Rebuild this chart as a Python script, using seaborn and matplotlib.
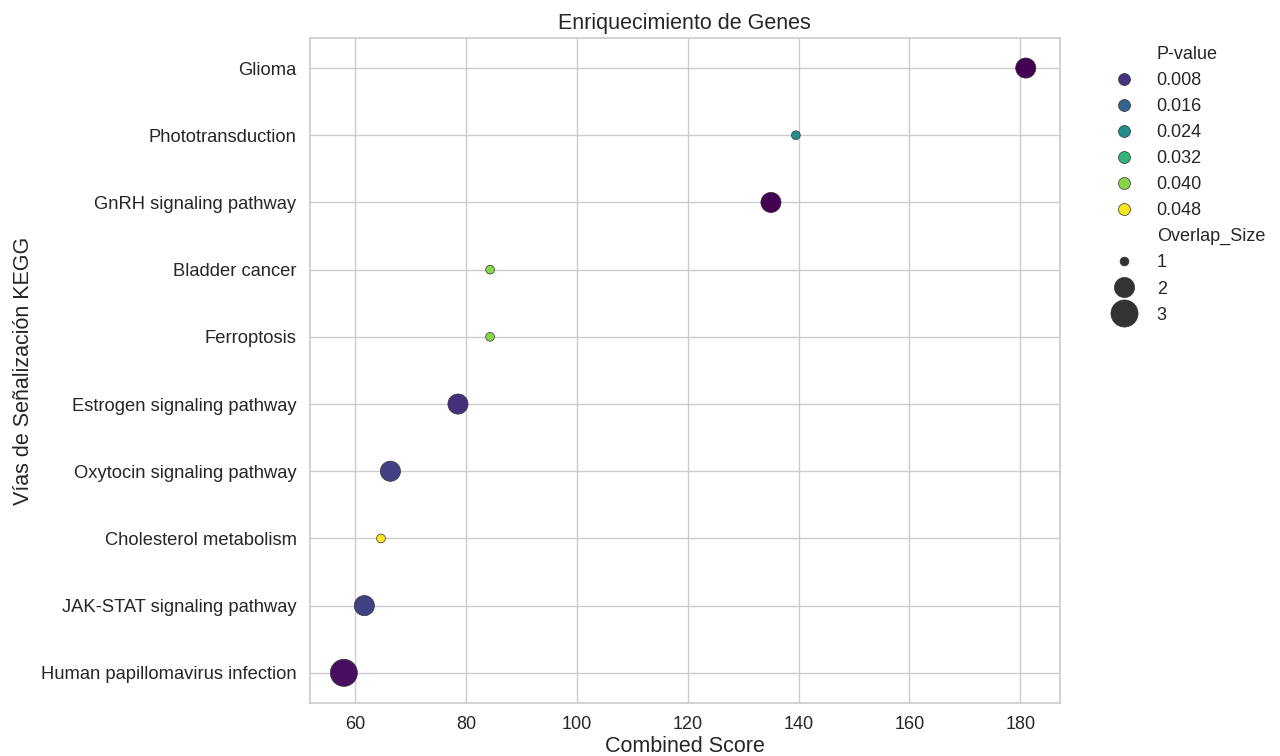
import matplotlib
matplotlib.use("Agg")
import matplotlib.pyplot as plt
import seaborn as sns
import pandas as pd

# KEGG pathway enrichment results
pathways = [
    "Glioma",
    "Phototransduction",
    "GnRH signaling pathway",
    "Bladder cancer",
    "Ferroptosis",
    "Estrogen signaling pathway",
    "Oxytocin signaling pathway",
    "Cholesterol metabolism",
    "JAK-STAT signaling pathway",
    "Human papillomavirus infection",
]
combined_score = [181.0, 139.5, 135.0, 84.3, 84.3, 78.5, 66.3, 64.6, 61.6, 57.9]
p_values = [0.0008, 0.0247, 0.0009, 0.0400, 0.0400, 0.0075, 0.0100, 0.0485, 0.0100, 0.0025]
overlap_size = [2, 1, 2, 1, 1, 2, 2, 1, 2, 3]

df = pd.DataFrame({
    "Term": pathways,
    "Combined Score": combined_score,
    "P-value": p_values,
    "Overlap_Size": overlap_size,
})

sns.set_theme(style="whitegrid")
plt.rcParams["font.family"] = ["Liberation Sans", "DejaVu Sans"]

fig, ax = plt.subplots(figsize=(12.8, 7.56), dpi=100)
fig.subplots_adjust(left=0.242, right=0.828, top=0.950, bottom=0.070)

sns.scatterplot(
    data=df, x="Combined Score", y="Term",
    hue="P-value", size="Overlap_Size",
    palette="viridis", sizes=(40, 380),
    edgecolor="0.2", linewidth=0.5, ax=ax,
)

if not ax.yaxis_inverted():
    ax.invert_yaxis()

for side in ax.spines.values():
    side.set_visible(True)
    side.set_color("0.8")

ax.set_title("Enriquecimiento de Genes", fontsize=15.5)
ax.set_xlabel("Combined Score", fontsize=15.5, labelpad=2)
ax.set_ylabel("Vías de Señalización KEGG", fontsize=15.5, labelpad=5)
ax.tick_params(axis="x", labelsize=13)
ax.tick_params(axis="y", labelsize=13.2)

# Enlarge the colour-key markers so they read like the plotted points
handles, labels = ax.get_legend_handles_labels()
in_hue = False
for h, lab in zip(handles, labels):
    if lab == "P-value":
        in_hue = True
        continue
    if lab == "Overlap_Size":
        in_hue = False
        continue
    if in_hue:
        h.set_markersize(8.6)

ax.legend(handles, labels, bbox_to_anchor=(1.04, 1.012), loc="upper left",
          frameon=False, fontsize=13)

fig.savefig("out.png", dpi=100)
